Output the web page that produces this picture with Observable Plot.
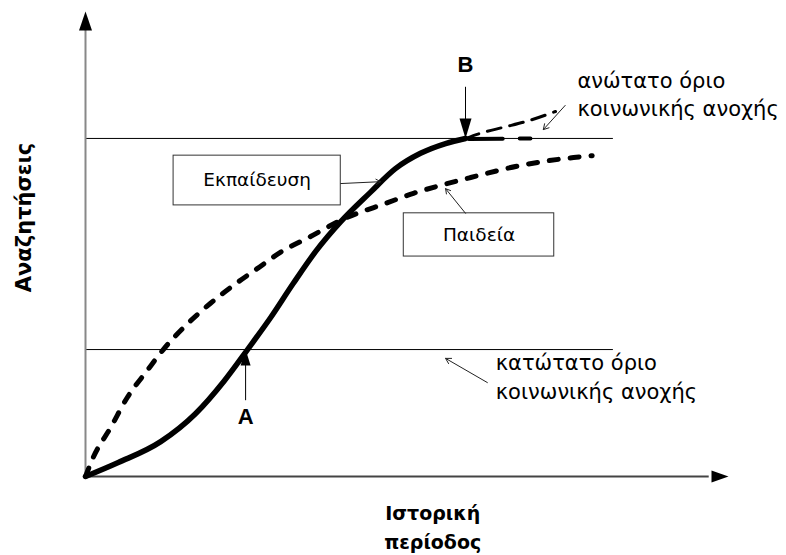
<!DOCTYPE html>
<html><head><meta charset="utf-8">
<script src="https://cdn.jsdelivr.net/npm/d3@7"></script>
<script src="https://cdn.jsdelivr.net/npm/@observablehq/plot@0.6"></script>
<style>body{margin:0;background:#fff} #chart svg{display:block;overflow:visible}</style>
</head><body><div id="chart"></div>
<script>
// Εκπαίδευση (solid curve)
const educationX = [0, 5.1, 11.7, 17.1, 21.6, 25.2, 28.8, 32.3, 35.8, 39.7, 44.3, 48.2, 52.1, 56.0, 59.1];
const educationY = [0, 3.0, 7.5, 13.5, 20.6, 27.3, 34.2, 41.5, 48.4, 54.8, 61.1, 66.2, 69.5, 71.6, 72.7];
// continuation beyond B (exceeding the upper limit)
const beyondX = [59.1, 61.4, 65.0, 68.4, 73.1];
const beyondY = [72.7, 73.8, 75.1, 76.3, 78.5];
// continuation beyond B (along the upper limit)
const flatX = [59.6, 69.2];
const flatY = [72.6, 72.7];
// Παιδεία (dashed curve)
const paideiaX = [0, 1.2, 3.9, 6.5, 9.6, 12.1, 15.9, 19.4, 23.6, 26.7, 30.3, 35.0, 39.7, 47.0, 51.0, 55.2, 59.9, 67.7, 75.9, 78.8];
const paideiaY = [0, 4.1, 10.5, 17.0, 22.8, 27.3, 32.9, 37.2, 41.7, 44.7, 48.2, 51.6, 55.1, 58.9, 60.9, 62.6, 64.3, 66.9, 68.6, 69.0];
// tolerance limits
const limitValues = [27.3, 72.7];
const limitEnd = 82.1;
// points A and B
const pointLabels = ["A", "B"];
const pointX = [24.9, 59.1];
const pointY = [27.3, 72.7];
const pointStemEnd = [16.3, 83.7];
const pointLabelY = [12.7, 88.4];
// boxed labels
const boxLabels = ["Εκπαίδευση", "Παιδεία"];
const boxX1 = [13.7, 49.5], boxX2 = [39.7, 72.9];
const boxY1 = [58.3, 47.3], boxY2 = [69.0, 56.6];
const boxArrowFrom = [[39.7, 63.0], [59.1, 56.6]];
const boxArrowTo = [[45.9, 63.4], [56.0, 61.9]];
// limit annotations
const limitText = [
  ["ανώτατο όριο", "κοινωνικής ανοχής"],
  ["κατώτατο όριο", "κοινωνικής ανοχής"]
];
const limitTextX = [76.5, 63.8];
const limitTextY = [[84.9, 79.0], [24.3, 18.1]];
const limitArrowFrom = [[74.6, 79.8], [62.5, 20.2]];
const limitArrowTo = [[71.2, 74.6], [56.0, 25.4]];
// axis titles
const xTitle = ["Ιστορική", "περίοδος"];
const xTitleY = [-8.0, -14.2];
const xTitleX = 54.0;
const yTitle = "Αναζητήσεις";
const yTitlePos = [-9.6, 55.7];

const zip = (xs, ys) => xs.map((x, i) => ({x, y: ys[i]}));
const education = zip(educationX, educationY);
const beyond = zip(beyondX, beyondY);
const flat = zip(flatX, flatY);
const paideia = zip(paideiaX, paideiaY);
const points = pointLabels.map((l, i) => ({label: l, x: pointX[i], y: pointY[i], y0: pointStemEnd[i], ly: pointLabelY[i], rot: i === 0 ? 0 : 180}));
const boxes = boxLabels.map((l, i) => ({label: l, x1: boxX1[i], x2: boxX2[i], y1: boxY1[i], y2: boxY2[i],
  ax1: boxArrowFrom[i][0], ay1: boxArrowFrom[i][1], ax2: boxArrowTo[i][0], ay2: boxArrowTo[i][1]}));
const limitLabels = limitText.flatMap((lines, i) => lines.map((t, j) => ({text: t, x: limitTextX[i], y: limitTextY[i][j]})));
const limitArrows = limitArrowFrom.map((f, i) => ({x1: f[0], y1: f[1], x2: limitArrowTo[i][0], y2: limitArrowTo[i][1]}));

const head = (h, w) => ({draw(ctx) { ctx.moveTo(0, 0); ctx.lineTo(-w, h); ctx.lineTo(w, h); ctx.closePath(); }});

const font = "DejaVu Sans, sans-serif";
const chart = Plot.plot({
  width: 786, height: 555,
  marginLeft: 85, marginRight: 58, marginTop: 11, marginBottom: 79,
  x: {domain: [0, 100], axis: null},
  y: {domain: [0, 100], axis: null},
  style: {background: "white", fontFamily: font},
  marks: [
    // limit lines
    Plot.ruleY(limitValues, {x1: 0, x2: limitEnd, stroke: "black", strokeWidth: 1}),
    // axes
    Plot.ruleY([0], {x1: 0, x2: 97, stroke: "#444", strokeWidth: 2}),
    Plot.ruleX([0], {y1: 0, y2: 97, stroke: "#888", strokeWidth: 2}),
    Plot.dot([{x: 0, y: 100}], {x: "x", y: "y", symbol: head(19, 6.5), fill: "black", r: 5}),
    Plot.dot([{x: 100, y: 0}], {x: "x", y: "y", symbol: head(17, 6), fill: "black", r: 5, rotate: 90}),
    // curves
    Plot.line(paideia, {x: "x", y: "y", curve: "monotone-x", stroke: "black", strokeWidth: 5, strokeDasharray: "9,12", strokeLinecap: "round"}),
    Plot.line(education, {x: "x", y: "y", curve: "monotone-x", stroke: "black", strokeWidth: 5.5, strokeLinecap: "round"}),
    Plot.line(beyond, {x: "x", y: "y", curve: "monotone-x", stroke: "black", strokeWidth: 3, strokeDasharray: "14,9"}),
    Plot.line(flat, {x: "x", y: "y", stroke: "black", strokeWidth: 4, strokeDasharray: "34,17"}),
    // A and B markers
    Plot.ruleX(points, {x: "x", y1: "y0", y2: "y", stroke: "black", strokeWidth: 1}),
    Plot.dot(points.slice(0, 1), {x: "x", y: "y", symbol: head(16, 5), fill: "black", r: 5, rotate: "rot"}),
    Plot.dot(points.slice(1), {x: "x", y: "y", symbol: head(20, 6), fill: "black", r: 5, rotate: "rot"}),
    Plot.text(points, {x: "x", y: "ly", text: "label", fontSize: 22, fontWeight: "bold", fill: "black", fontFamily: "Liberation Sans, Arial, sans-serif"}),
    // boxed labels
    Plot.rect(boxes, {x1: "x1", x2: "x2", y1: "y1", y2: "y2", fill: "white", stroke: "#333", strokeWidth: 1}),
    Plot.text(boxes, {x: d => (d.x1 + d.x2) / 2, y: d => (d.y1 + d.y2) / 2, text: "label", fontSize: 18.5, fill: "black"}),
    Plot.arrow(boxes, {x1: "ax1", y1: "ay1", x2: "ax2", y2: "ay2", stroke: "#222", strokeWidth: 1, headLength: 8}),
    // limit annotations
    Plot.text(limitLabels, {x: "x", y: "y", text: "text", textAnchor: "start", fontSize: 21, fill: "black"}),
    Plot.arrow(limitArrows, {x1: "x1", y1: "y1", x2: "x2", y2: "y2", stroke: "#222", strokeWidth: 1, headLength: 9}),
    // axis titles
    Plot.text(xTitle, {x: xTitleX, y: (d, i) => xTitleY[i], text: d => d, fontSize: 19, fontWeight: "bold", fill: "black"}),
    Plot.text([yTitle], {x: yTitlePos[0], y: yTitlePos[1], text: d => d, rotate: -90, fontSize: 21, fontWeight: "bold", fill: "black"})
  ]
});
document.getElementById("chart").append(chart);
</script>
</body></html>
